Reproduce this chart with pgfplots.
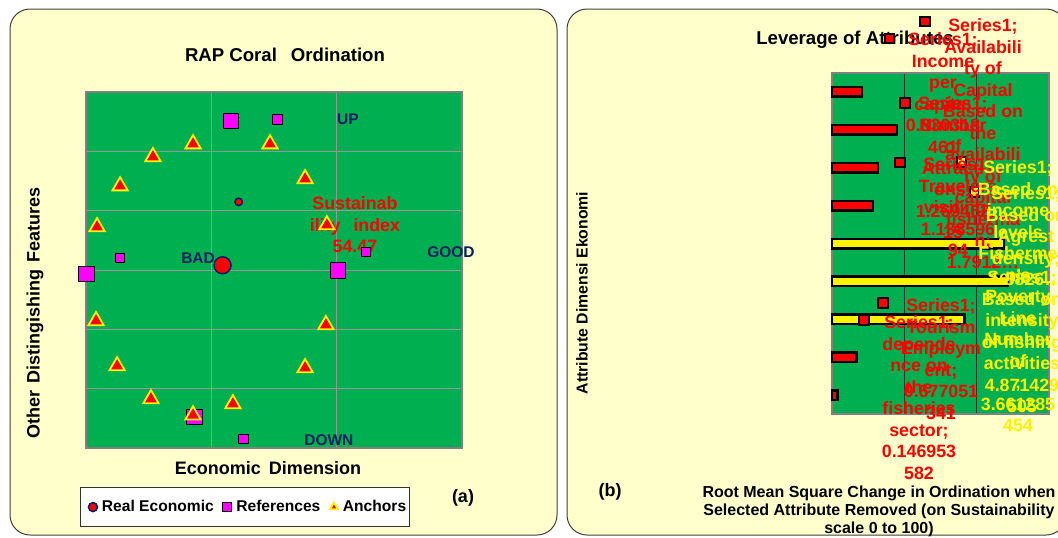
\documentclass[border=0pt]{standalone}
\usepackage{fontspec}
\setmainfont{Liberation Sans}
\usepackage{pgfplots}
\pgfplotsset{compat=1.18}

\definecolor{panel}{RGB}{255,255,204}
\definecolor{plotgreen}{RGB}{0,176,80}
\definecolor{navy}{RGB}{0,32,96}
\definecolor{mag}{RGB}{255,0,255}
\definecolor{gridgray}{RGB}{150,150,150}

\newcommand\fA{\fontsize{18}{21}\selectfont\bfseries}
\newcommand\fT{\fontsize{18.6}{21}\selectfont\bfseries}
\newcommand\fL{\fontsize{17.8}{21.5}\selectfont\bfseries}
\newcommand\fG{\fontsize{15.5}{18}\selectfont\bfseries}
\newcommand\fX{\fontsize{16}{18}\selectfont\bfseries}
\newcommand\fLeg{\fontsize{15.6}{18}\selectfont\bfseries}
\newcommand\fY{\fontsize{15.8}{18}\selectfont\bfseries}

\begin{document}
\begin{tikzpicture}
\path[use as bounding box] (0pt,0pt) rectangle (1058pt,-538pt);
\clip (0pt,0pt) rectangle (1058pt,-538pt);

\begin{scope}[x=1pt,y=-1pt]
\draw[fill=panel, draw=black!75, line width=1pt, rounded corners=20pt] (10,9) rectangle (557,535);
\draw[fill=panel, draw=black!75, line width=1pt, rounded corners=20pt] (567,9) rectangle (1066,535);
% left texts
\node[font=\fT, inner sep=0] at (285,55) {RAP Coral\hspace{0.75em}Ordination};
\node[font=\fA, inner sep=0] at (268,468) {Economic\hspace{3pt} Dimension};
\node[font=\fA, inner sep=0, rotate=90] at (35,313) {Other\hspace{2pt} Distingishing\hspace{2pt} Features};
\node[font=\fA, inner sep=0] at (463,498) {(a)};
% right texts
\node[font=\fT, inner sep=0] at (855,40) {Leverage of Attributes};
\node[font=\fY, inner sep=0, rotate=90] at (582,293) {Attribute Dimensi Ekonomi};
\node[font=\fX, inner sep=0, align=center, anchor=north] at (879,486) {Root Mean Square Change in Ordination when\\Selected Attribute Removed (on Sustainability\\scale 0 to 100)};
\node[font=\fA, inner sep=0] at (610,492) {(b)};
\end{scope}

% ---------- left: ordination ----------
\begin{axis}[at={(86pt,-448pt)}, anchor=south west, scale only axis,
  width=376pt, height=356pt,
  xmin=0, xmax=150, ymin=-75, ymax=75,
  xtick={50,100}, ytick={-50,-25,0,25,50},
  xticklabels={}, yticklabels={}, tick style={draw=none},
  grid=major, grid style={draw=gridgray, line width=0.9pt},
  axis background/.style={fill=plotgreen},
  axis line style={draw=gray, line width=2.5pt},
  clip=false,
  legend columns=3,
  legend image code/.code={\path[draw=none, fill=none] (-11.5pt,0pt) -- (7pt,0pt);
    \draw[#1, mark size=4.5pt] plot coordinates {(0pt,0pt)};},
  legend style={at={(-0.016,-0.11)}, anchor=north west, draw=black!80, line width=1pt,
    fill=white, font=\fLeg, inner xsep=1pt, inner ysep=11pt,
    /tikz/every even column/.append style={column sep=0pt}},
]
% labels (beneath markers)
\node[font=\fL, text=red, align=center, anchor=north, inner sep=0] at (axis cs:107.3,31.0) {Sustainab\\ility\hspace{8pt} index\\54.47};
\node[font=\fG, text=navy, inner sep=0] at (axis cs:104.5,63.6) {UP};
\node[font=\fG, text=navy, inner sep=0] at (axis cs:44.7,5.1) {BAD};
\node[font=\fG, text=navy, inner sep=0] at (axis cs:145.6,7.6) {GOOD};
\node[font=\fG, text=navy, inner sep=0] at (axis cs:96.9,-71.6) {DOWN};

\addplot[only marks, mark=*, mark size=8.5pt, mark options={fill=red, draw=navy, line width=1.5pt}]
  coordinates {(54.47,2.0)};
\addplot[only marks, mark=*, mark size=3.8pt, mark options={fill=red, draw=navy, line width=1.5pt}, forget plot]
  coordinates {(60.9,28.7)};
\addplot[only marks, mark=square*, mark size=7.7pt, mark options={fill=mag, draw=none}]
  coordinates {(57.8,62.8) (0,-1.5) (100.5,0) (43.1,-61.9)};
\addplot[only marks, mark=square*, mark size=4.7pt, mark options={fill=mag, draw=none}, forget plot]
  coordinates {(76.2,63.6) (13.4,5.1) (111.7,7.6) (62.7,-71.2)};
\addplot[only marks, mark=triangle*, mark size=8.8pt, mark options={fill=red, draw=yellow, line width=1.8pt}]
  coordinates {(42.7,53.1) (26.7,47.7) (13.6,35.4) (4.4,18.2) (4.0,-21.4) (12.4,-40.4)
               (25.9,-54.3) (42.7,-61.1) (58.6,-56.4) (87.4,-41.2) (95.7,-23.1)
               (96.1,19.0) (87.4,38.4) (73.4,53.1)};
\legend{Real Economic, References, Anchors}
\end{axis}

% ---------- right: leverage ----------
\begin{axis}[at={(832pt,-414pt)}, anchor=south west, scale only axis,
  width=217pt, height=341pt,
  xmin=0, xmax=6, ymin=0.5, ymax=9.5, y dir=reverse,
  xtick={2,4}, xticklabels={}, ytick=\empty, tick style={draw=none},
  xmajorgrids, grid style={draw=black!80, line width=1pt},
  axis background/.style={fill=plotgreen},
  axis line style={draw=gray, line width=2.5pt},
  clip=false,
]
\addplot[xbar, bar width=9.5pt, bar shift=0pt, fill=red, draw=black, line width=2.5pt]
  coordinates {(0.830318,1) (1.7912,2) (1.269462,3) (1.138596,4) (0.677051,8) (0.146954,9)};
\addplot[xbar, bar width=9.5pt, bar shift=0pt, fill=yellow, draw=black, line width=2.5pt]
  coordinates {(4.75,5) (4.871430,6) (3.661285,7)};
\addplot[only marks, mark=square*, mark size=4.6pt, mark options={fill=red, draw=black, line width=2pt}]
  coordinates {(2.57,-0.85) (1.60,-0.42) (2.02,1.29) (1.88,2.87) (1.41,6.57) (0.885,7.02)};
\addplot[only marks, mark=square*, mark size=4.6pt, mark options={fill=yellow, draw=black, line width=2pt}]
  coordinates {(3.59,2.85) (3.95,3.64)};
\end{axis}

\begin{scope}[x=1pt,y=-1pt]
\tikzset{lbl/.style={font=\fL, align=center, anchor=north, inner sep=0}}
\node[lbl, text=red] at (983,18.5) {Series1;\\Availabili\\ty of\\Capital\\Based on\\the\\availabili\\ty of\\capital\\fisherma\\n;\\1.7912…};
\node[lbl, text=red] at (943,32.5) {Series1;\\Income\\per\\capita;\\0.830318\\461};
\node[lbl, text=red] at (953,96.5) {Series1;\\Number\\of\\Attracti\\ons;\\1.269462\\15};
\node[lbl, text=red] at (958,157.5) {Series1;\\Travelers\\visiting;\\1.138596\\94};
\node[lbl, text=yellow] at (1018,160.5) {Series1;\\Based on\\income\\levels\\Fisherme\\n's\\Poverty\\Line\\Number\\of\\;\\3.661285\\454};
\node[lbl, text=yellow] at (1026,186.5) {Series1;\\Based on\\Agrest\\density;\\1.8826…};
\node[lbl, text=yellow] at (1022,270.5) {Series1;\\Based on\\intensity\\of fishing\\activities\\4.871429\\505};
\node[lbl, text=red] at (941,298.5) {Series1;\\Tourism\\Employm\\ent;\\0.677051\\341};
\node[lbl, text=red] at (919,315.5) {Series1;\\depende\\nce on\\the\\fisheries\\sector;\\0.146953\\582};
\end{scope}
\end{tikzpicture}
\end{document}
